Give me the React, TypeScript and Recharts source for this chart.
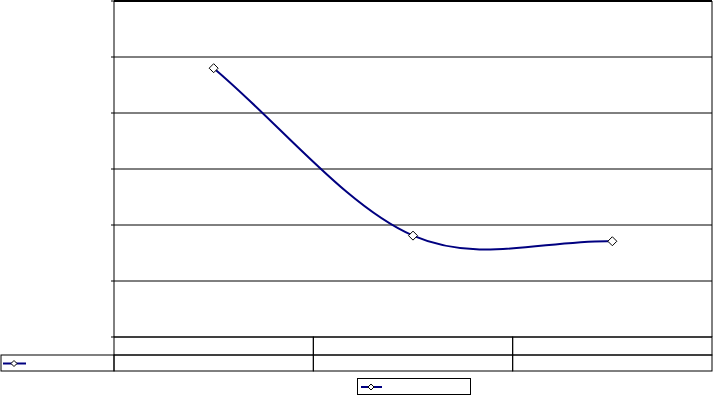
import React from 'react';
import { LineChart, Line, XAxis, YAxis, CartesianGrid, ReferenceLine, Legend } from 'recharts';

const categories = ['1', '2', '3'];
const seriesValues = [48.0, 18.1, 17.1];
const yTicks = [0, 10, 20, 30, 40, 50, 60];

const data = categories.map((c, i) => ({ name: c, value: seriesValues[i] }));

// layout constants (plot area / table)
const PLOT_LEFT = 114;
const PLOT_RIGHT = 712;
const PLOT_BOTTOM = 337;
const BAND = (PLOT_RIGHT - PLOT_LEFT) / categories.length;
const ROW1 = 18;
const ROW2 = 16;
const NAVY = '#000080';

// smooth line like a spreadsheet "smoothed line" (bezier, catmull-rom style)
const smoothCurve = (context: any) => {
  let xs: number[] = [];
  let ys: number[] = [];
  return {
    areaStart() {},
    areaEnd() {},
    lineStart() {
      xs = [];
      ys = [];
    },
    point(x: number, y: number) {
      xs.push(+x);
      ys.push(+y);
    },
    lineEnd() {
      const n = xs.length;
      if (!n) return;
      context.moveTo(xs[0], ys[0]);
      if (n === 1) return;
      const t = (a: number[], i: number) =>
        i === 0 ? (a[1] - a[0]) / 3 : i === n - 1 ? (a[n - 1] - a[n - 2]) / 3 : (a[i + 1] - a[i - 1]) / 6;
      for (let i = 0; i < n - 1; i++) {
        context.bezierCurveTo(
          xs[i] + t(xs, i), ys[i] + t(ys, i),
          xs[i + 1] - t(xs, i + 1), ys[i + 1] - t(ys, i + 1),
          xs[i + 1], ys[i + 1]
        );
      }
    },
  };
};

const Diamond = ({ cx, cy, r = 4.5 }: { cx: number; cy: number; r?: number }) => (
  <polygon
    points={`${cx},${cy - r} ${cx + r},${cy} ${cx},${cy + r} ${cx - r},${cy}`}
    fill="#fff"
    stroke="#000"
    strokeWidth={1}
  />
);

const TableTick = (props: any) => {
  const { x, index } = props;
  const left = x - BAND / 2;
  return (
    <g>
      <rect x={left} y={PLOT_BOTTOM} width={BAND} height={ROW1} fill="none" stroke="#000" />
      <rect x={left} y={PLOT_BOTTOM + ROW1} width={BAND} height={ROW2} fill="none" stroke="#000" />
      {index === 0 && (
        <g>
          <rect x={1} y={PLOT_BOTTOM + ROW1} width={left - 1} height={ROW2} fill="none" stroke="#000" />
          <line x1={3} x2={26} y1={PLOT_BOTTOM + ROW1 + 8.5} y2={PLOT_BOTTOM + ROW1 + 8.5} stroke={NAVY} strokeWidth={2} />
          <Diamond cx={14} cy={PLOT_BOTTOM + ROW1 + 8.5} r={3} />
        </g>
      )}
    </g>
  );
};

const EmptyTick = () => <g />;

const LegendBox = () => (
  <div style={{ width: 112, height: 15, border: '1px solid #000', background: '#fff' }}>
    <svg width={112} height={15}>
      <line x1={3} x2={24} y1={8} y2={8} stroke={NAVY} strokeWidth={2} />
      <Diamond cx={13} cy={8} r={3} />
    </svg>
  </div>
);

export default function App() {
  return (
    <div style={{ position: 'absolute', left: 0, top: 0, width: 713, height: 396, background: '#fff' }}>
      <LineChart width={713} height={396} data={data} margin={{ top: 1, right: 1, left: 0, bottom: 8 }}>
        <CartesianGrid stroke="#000" vertical={true} verticalPoints={[PLOT_RIGHT]} />
        <XAxis
          dataKey="name"
          axisLine={false}
          tickLine={false}
          height={34}
          interval={0}
          padding={{ left: BAND / 2, right: BAND / 2 }}
          tick={<TableTick />}
        />
        <YAxis
          width={PLOT_LEFT}
          domain={[0, 60]}
          ticks={yTicks}
          interval={0}
          tick={<EmptyTick />}
          tickSize={3}
          axisLine={{ stroke: '#000' }}
          tickLine={{ stroke: '#000' }}
        />
        <ReferenceLine y={60} stroke="#000" strokeWidth={2} />
        <Legend
          content={<LegendBox />}
          wrapperStyle={{ position: 'absolute', left: 357, top: 378, width: 114, height: 17 }}
        />
        <Line
          type={smoothCurve as any}
          dataKey="value"
          stroke={NAVY}
          strokeWidth={2}
          dot={(p: any) => <Diamond key={p.index} cx={p.cx} cy={p.cy} />}
          activeDot={false}
          isAnimationActive={false}
        />
      </LineChart>
    </div>
  );
}
